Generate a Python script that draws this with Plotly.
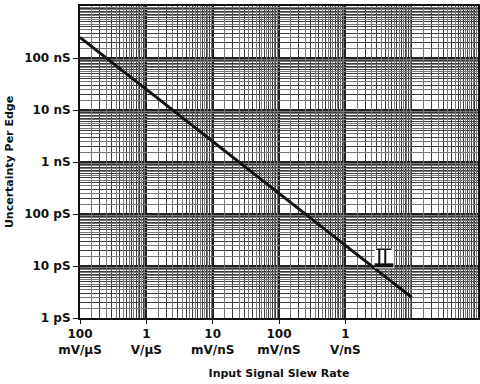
import numpy as np
import plotly.graph_objects as go

# Data (slew rate in V/µs, uncertainty in seconds)
slew_rate_v_per_us = [0.1, 10000]
uncertainty_s = [250e-9, 2.5e-12]

# Small bracket mark seen near 3.6 V/nS
bracket_box_x = [2750, 5400, 5400, 2750, 2750]
bracket_box_y = [9.0e-12, 9.0e-12, 22e-12, 22e-12, 9.0e-12]
bracket_stem_x = [3250, 4000]
bracket_top_x = [2900, 5000]
bracket_top_y = 21e-12
bracket_bottom_x = [2750, 5300]
bracket_bottom_y = 10.3e-12

x_tick_vals = [0.1, 1, 10, 100, 1000]
x_tick_text = ["100<br>mV/µS", "1<br>V/µS", "10<br>mV/nS", "100<br>mV/nS", "1<br>V/nS"]
y_tick_vals = [1e-12, 1e-11, 1e-10, 1e-9, 1e-8, 1e-7]
y_tick_text = ["1 pS", "10 pS", "100 pS", "1 nS", "10 nS", "100 nS"]

FONT = "DejaVu Sans, Liberation Sans, Arial, sans-serif"
INK = "#111111"

# finer subdivision grid values (half steps) for the dense log-paper look
fine_x = [m * 10.0**e for e in range(-1, 5) for m in np.arange(1.5, 10, 1.0)]
fine_y = [m * 10.0**e for e in range(-12, -6) for m in np.arange(1.5, 10, 1.0)]

fig = go.Figure()

# invisible trace to activate overlay axes
fig.add_trace(go.Scatter(x=[slew_rate_v_per_us[0]], y=[uncertainty_s[0]], xaxis="x2", yaxis="y2",
                         mode="markers", marker=dict(opacity=0), showlegend=False, hoverinfo="skip"))

fig.add_trace(go.Scatter(x=slew_rate_v_per_us, y=uncertainty_s, mode="lines",
                         line=dict(color=INK, width=3), showlegend=False, hoverinfo="skip"))

# bracket mark: white box, top bar, two stems, thick bottom bar
fig.add_trace(go.Scatter(x=bracket_box_x, y=bracket_box_y, mode="lines", fill="toself",
                         fillcolor="white", line=dict(width=0, color="white"),
                         showlegend=False, hoverinfo="skip"))
fig.add_trace(go.Scatter(x=bracket_top_x, y=[bracket_top_y] * 2, mode="lines",
                         line=dict(color=INK, width=1.5), showlegend=False, hoverinfo="skip"))
for sx in bracket_stem_x:
    fig.add_trace(go.Scatter(x=[sx, sx], y=[bracket_bottom_y, bracket_top_y], mode="lines",
                             line=dict(color=INK, width=2), showlegend=False, hoverinfo="skip"))
fig.add_trace(go.Scatter(x=bracket_bottom_x, y=[bracket_bottom_y] * 2, mode="lines",
                         line=dict(color=INK, width=4), showlegend=False, hoverinfo="skip"))

axis_common = dict(type="log", showline=True, linecolor=INK, linewidth=2, mirror=True,
                   zeroline=False, automargin=False)

tick_font = dict(family=FONT, size=12, color=INK, weight="bold")

fig.update_layout(
    width=480, height=384, autosize=False,
    margin=dict(l=80, r=2, t=6, b=66),
    paper_bgcolor="white", plot_bgcolor="white",
    font=dict(family=FONT, size=12, color=INK),
    xaxis=dict(**axis_common, range=[-1, 5], tickvals=x_tick_vals, ticktext=x_tick_text,
               ticks="outside", ticklen=4, tickcolor=INK,
               showgrid=True, gridcolor="#222222", gridwidth=1.5,
               minor=dict(dtick="D1", showgrid=True, gridcolor="#3a3a3a", gridwidth=1, ticks=""),
               tickfont=tick_font,
               title=dict(text="Input Signal Slew Rate", standoff=13,
                          font=dict(family=FONT, size=11, color=INK, weight="bold"))),
    yaxis=dict(**axis_common, range=[-12, -6], tickvals=y_tick_vals, ticktext=y_tick_text,
               ticks="outside", ticklen=5, tickcolor=INK,
               showgrid=True, gridcolor="#222222", gridwidth=1.5,
               minor=dict(dtick="D1", showgrid=True, gridcolor="#3a3a3a", gridwidth=1, ticks=""),
               tickfont=tick_font,
               title=dict(text="Uncertainty Per Edge", standoff=8,
                          font=dict(family=FONT, size=11, color=INK, weight="bold"))),
    xaxis2=dict(type="log", overlaying="x", matches="x", range=[-1, 5], tickvals=fine_x,
                showticklabels=False, ticks="", showgrid=True, gridcolor="#777777", gridwidth=1,
                zeroline=False, showline=False),
    yaxis2=dict(type="log", overlaying="y", matches="y", range=[-12, -6], tickvals=fine_y,
                showticklabels=False, ticks="", showgrid=True, gridcolor="#777777", gridwidth=1,
                zeroline=False, showline=False),
)

fig.write_html("out.html", config={"responsive": False, "displayModeBar": False},
               post_script="document.body.style.margin='0';document.body.style.padding='0';")
